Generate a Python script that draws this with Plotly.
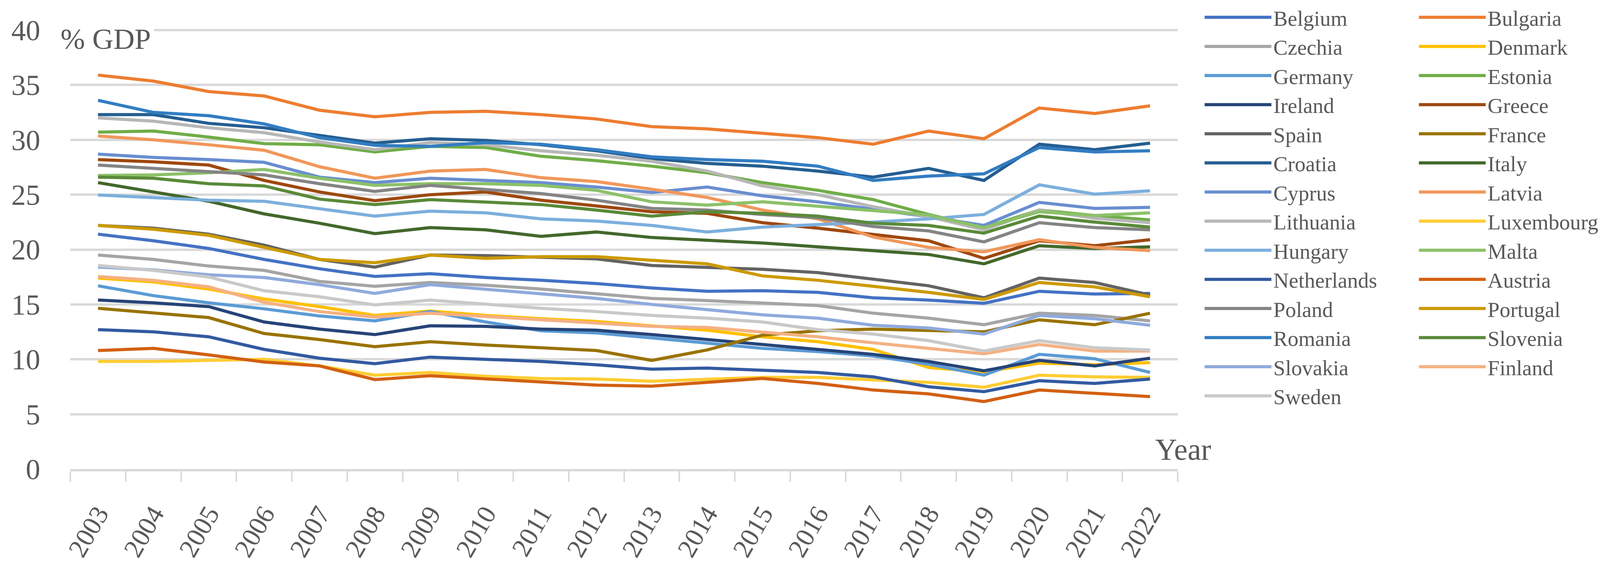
import plotly.graph_objects as go

years = list(range(2003, 2023))

belgium = [21.4, 20.8, 20.1, 19.1, 18.25, 17.55, 17.8, 17.45, 17.2, 16.9, 16.5, 16.2, 16.25, 16.1, 15.6, 15.4, 15.1, 16.2, 15.95, 16.0]
bulgaria = [35.9, 35.35, 34.4, 34.0, 32.7, 32.1, 32.5, 32.6, 32.3, 31.9, 31.2, 31.0, 30.6, 30.2, 29.6, 30.8, 30.1, 32.9, 32.4, 33.1]
czechia = [19.5, 19.1, 18.5, 18.1, 17.1, 16.65, 17.0, 16.75, 16.4, 16.0, 15.55, 15.35, 15.15, 14.9, 14.2, 13.75, 13.15, 14.2, 14.0, 13.5]
denmark = [17.4, 17.05, 16.4, 15.5, 14.8, 14.0, 14.4, 14.0, 13.7, 13.45, 13.05, 12.65, 12.05, 11.6, 10.9, 9.25, 8.85, 9.65, 9.5, 9.7]
germany = [16.7, 15.8, 15.15, 14.6, 13.95, 13.5, 14.35, 13.4, 12.6, 12.4, 11.95, 11.5, 11.0, 10.7, 10.3, 9.55, 8.55, 10.45, 10.05, 8.8]
estonia = [30.7, 30.8, 30.25, 29.65, 29.55, 28.9, 29.4, 29.3, 28.5, 28.1, 27.6, 27.0, 26.1, 25.4, 24.55, 23.2, 22.0, 23.6, 23.1, 22.7]
ireland = [15.4, 15.15, 14.8, 13.4, 12.75, 12.25, 13.05, 13.0, 12.75, 12.65, 12.25, 11.8, 11.3, 10.9, 10.45, 9.8, 8.95, 9.9, 9.4, 10.1]
greece = [28.2, 28.0, 27.7, 26.3, 25.25, 24.45, 25.0, 25.25, 24.5, 24.0, 23.45, 23.3, 22.45, 21.95, 21.4, 20.8, 19.2, 20.8, 20.35, 20.9]
spain = [22.2, 21.95, 21.4, 20.4, 19.1, 18.4, 19.5, 19.45, 19.3, 19.15, 18.55, 18.4, 18.2, 17.9, 17.3, 16.7, 15.6, 17.4, 17.0, 15.85]
france = [14.65, 14.2, 13.8, 12.35, 11.8, 11.15, 11.6, 11.3, 11.05, 10.8, 9.9, 10.85, 12.2, 12.6, 12.75, 12.6, 12.5, 13.6, 13.15, 14.2]
croatia = [32.3, 32.3, 31.5, 31.1, 30.4, 29.7, 30.1, 29.95, 29.55, 29.0, 28.3, 27.85, 27.6, 27.15, 26.6, 27.4, 26.3, 29.6, 29.1, 29.7]
italy = [26.1, 25.25, 24.4, 23.25, 22.4, 21.45, 22.0, 21.8, 21.2, 21.6, 21.1, 20.85, 20.6, 20.25, 19.9, 19.55, 18.7, 20.35, 20.1, 20.25]
cyprus = [28.7, 28.4, 28.2, 27.95, 26.6, 26.1, 26.5, 26.3, 26.1, 25.7, 25.2, 25.7, 24.9, 24.35, 23.7, 23.0, 22.2, 24.3, 23.75, 23.85]
latvia = [30.35, 30.0, 29.55, 29.05, 27.55, 26.5, 27.15, 27.3, 26.55, 26.2, 25.5, 24.75, 23.6, 22.8, 21.15, 20.2, 19.8, 20.9, 20.2, 19.9]
lithuania = [32.0, 31.7, 31.1, 30.65, 29.8, 29.1, 29.75, 29.55, 29.0, 28.6, 28.05, 27.15, 25.8, 25.0, 23.9, 23.0, 21.8, 23.6, 22.85, 22.45]
luxembourg = [9.8, 9.8, 9.9, 10.0, 9.4, 8.55, 8.8, 8.45, 8.25, 8.2, 8.0, 8.15, 8.35, 8.35, 8.15, 7.9, 7.45, 8.55, 8.4, 8.35]
hungary = [24.97, 24.7, 24.5, 24.4, 23.7, 23.05, 23.5, 23.35, 22.8, 22.6, 22.2, 21.6, 22.05, 22.25, 22.5, 22.8, 23.2, 25.9, 25.05, 25.35]
malta = [26.75, 26.8, 27.0, 27.3, 26.5, 25.85, 26.0, 26.0, 25.85, 25.4, 24.35, 24.05, 24.35, 23.95, 23.5, 23.15, 22.0, 23.45, 23.1, 23.35]
netherlands = [12.7, 12.5, 12.05, 10.9, 10.1, 9.6, 10.2, 10.0, 9.8, 9.5, 9.1, 9.2, 9.0, 8.8, 8.4, 7.5, 7.05, 8.05, 7.8, 8.2]
austria = [10.8, 11.0, 10.4, 9.75, 9.4, 8.15, 8.5, 8.2, 7.9, 7.65, 7.55, 7.9, 8.25, 7.8, 7.2, 6.85, 6.15, 7.2, 6.9, 6.6]
poland = [27.7, 27.4, 27.1, 26.8, 26.0, 25.3, 25.85, 25.5, 25.1, 24.5, 23.75, 23.6, 23.2, 22.9, 22.1, 21.7, 20.7, 22.45, 22.0, 21.8]
portugal = [22.2, 21.85, 21.3, 20.2, 19.1, 18.8, 19.5, 19.2, 19.35, 19.35, 19.0, 18.7, 17.6, 17.2, 16.65, 16.1, 15.45, 17.0, 16.6, 15.7]
romania = [33.6, 32.5, 32.2, 31.45, 30.2, 29.5, 29.4, 29.75, 29.6, 29.1, 28.45, 28.2, 28.05, 27.6, 26.3, 26.7, 26.9, 29.3, 28.9, 29.0]
slovenia = [26.6, 26.5, 26.0, 25.8, 24.6, 24.1, 24.55, 24.3, 24.1, 23.6, 23.05, 23.45, 23.3, 23.05, 22.4, 22.2, 21.5, 23.05, 22.5, 22.05]
slovakia = [18.4, 18.15, 17.7, 17.45, 16.8, 16.0, 16.8, 16.4, 16.0, 15.55, 15.0, 14.5, 14.05, 13.75, 13.1, 12.85, 12.3, 14.0, 13.7, 13.1]
finland = [17.55, 17.2, 16.6, 15.2, 14.35, 13.85, 14.2, 13.9, 13.55, 13.25, 13.0, 12.9, 12.45, 12.05, 11.5, 11.0, 10.5, 11.35, 10.75, 10.75]
sweden = [18.55, 18.1, 17.5, 16.25, 15.7, 14.95, 15.4, 15.0, 14.65, 14.35, 14.0, 13.75, 13.4, 12.7, 12.3, 11.7, 10.75, 11.7, 11.05, 10.85]

countries = ["Belgium", "Bulgaria", "Czechia", "Denmark", "Germany", "Estonia", "Ireland", "Greece",
             "Spain", "France", "Croatia", "Italy", "Cyprus", "Latvia", "Lithuania", "Luxembourg",
             "Hungary", "Malta", "Netherlands", "Austria", "Poland", "Portugal", "Romania", "Slovenia",
             "Slovakia", "Finland", "Sweden"]
series = [belgium, bulgaria, czechia, denmark, germany, estonia, ireland, greece, spain, france,
          croatia, italy, cyprus, latvia, lithuania, luxembourg, hungary, malta, netherlands, austria,
          poland, portugal, romania, slovenia, slovakia, finland, sweden]
colors = ["#4472C4", "#ED7D31", "#A5A5A5", "#FFC000", "#5B9BD5", "#70AD47", "#264478", "#9E480E",
          "#636363", "#997300", "#255E91", "#43682B", "#698ED0", "#F1975A", "#B7B7B7", "#FFCD33",
          "#7CAFDD", "#8CC168", "#335AA1", "#D26012", "#848484", "#CC9A00", "#327DC2", "#5A8A39",
          "#8FAADC", "#F4B183", "#C9C9C9"]

FONT = "Liberation Serif"
TXT = "#595959"
GRID = "#D9D9D9"

# plot area: value 0 at y=1200px, value 40 at y=77px; top margin 2px
Y_TOP = (1200 - 2) / ((1200 - 77) / 40.0)

fig = go.Figure()
for i, (name, vals, col) in enumerate(zip(countries, series, colors)):
    fig.add_trace(go.Scatter(
        x=years, y=vals, name=name, mode="lines",
        line=dict(color=col, width=8),
        legend="legend" if i % 2 == 0 else "legend2",
    ))

legend_common = dict(
    font=dict(family=FONT, size=55, color=TXT),
    itemwidth=171, bgcolor="rgba(0,0,0,0)", borderwidth=0,
    xanchor="left", yanchor="top", tracegroupgap=0, y=1.0,
)

fig.update_layout(
    width=4164, height=1443,
    margin=dict(l=180, r=1149, t=2, b=243),
    paper_bgcolor="white", plot_bgcolor="white",
    font=dict(family=FONT, color=TXT),
    showlegend=True,
    legend=dict(x=1.0225, **legend_common),
    legend2=dict(x=1.216, **legend_common),
    xaxis=dict(
        range=[2002.5, 2022.5], tickmode="array", tickvals=years,
        ticktext=[str(y) for y in years], ticks="", tickangle=-60,
        tickfont=dict(family=FONT, size=68, color=TXT),
        ticklabelstandoff=42, automargin=False,
        showline=True, linecolor=GRID, linewidth=6, showgrid=False, zeroline=False,
        minor=dict(ticks="outside", tick0=2002.5, dtick=1, ticklen=27, tickwidth=4,
                   tickcolor=GRID, showgrid=False),
    ),
    xaxis2=dict(
        range=[2002.5, 2022.5], overlaying="x", anchor="y", side="bottom",
        tickmode="linear", tick0=2002.5, dtick=1, ticks="inside", ticklen=25,
        tickwidth=4, tickcolor=GRID, showticklabels=False, showgrid=False,
        showline=False, zeroline=False,
    ),
    yaxis=dict(
        range=[0, Y_TOP], tickmode="array", tickvals=[0, 5, 10, 15, 20, 25, 30, 35, 40],
        showgrid=True, gridcolor=GRID, gridwidth=6, automargin=False,
        zeroline=False, showline=False, ticks="",
        tickfont=dict(family=FONT, size=74, color=TXT),
        ticklabelstandoff=76,
    ),
    annotations=[
        dict(text="% GDP", xref="paper", yref="paper", x=-0.012, y=(1200 - 99) / 1198,
             xanchor="left", yanchor="middle", showarrow=False, bgcolor="white",
             borderpad=8, font=dict(family=FONT, size=75, color=TXT)),
        dict(text="Year", xref="paper", yref="paper", x=0.979, y=(1200 - 1149) / 1198,
             xanchor="left", yanchor="middle", showarrow=False,
             font=dict(family=FONT, size=78, color=TXT)),
    ],
)

fig.write_html(
    "out.html",
    config={"displayModeBar": False},
    post_script="document.body.style.margin='0';document.body.style.overflow='hidden';",
)
